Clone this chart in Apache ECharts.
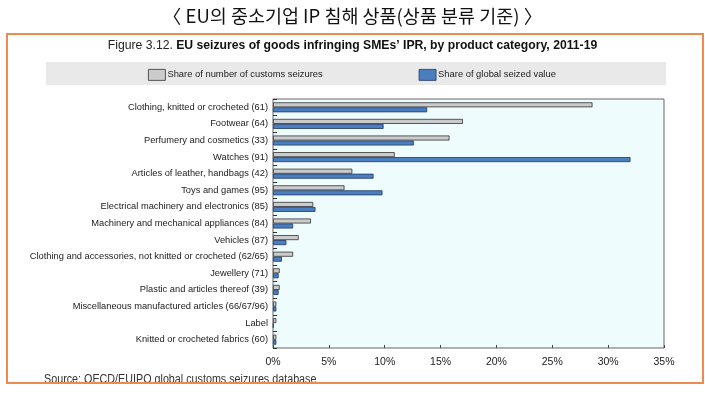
<!DOCTYPE html>
<html>
<head>
<meta charset="utf-8">
<script src="https://cdn.jsdelivr.net/npm/echarts@6/dist/echarts.min.js"></script>
<style>
  html, body { margin: 0; padding: 0; background: #fff; }
  #bar { width: 705px; height: 397px; }
</style>
</head>
<body>
<div id="bar"></div>
<script>
// 카테고리와 값 (%)
const categories = [
  'Clothing, knitted or crocheted (61)',
  'Footwear (64)',
  'Perfumery and cosmetics (33)',
  'Watches (91)',
  'Articles of leather, handbags (42)',
  'Toys and games (95)',
  'Electrical machinery and electronics (85)',
  'Machinery and mechanical appliances (84)',
  'Vehicles (87)',
  'Clothing and accessories, not knitted or crocheted (62/65)',
  'Jewellery (71)',
  'Plastic and articles thereof (39)',
  'Miscellaneous manufactured articles (66/67/96)',
  'Label',
  'Knitted or crocheted fabrics (60)'
];
const seizuresShare = [28.6, 17.0, 15.8, 10.9, 7.1, 6.4, 3.6, 3.4, 2.3, 1.8, 0.6, 0.6, 0.3, 0.3, 0.3];
const valueShare = [13.8, 9.9, 12.6, 32.0, 9.0, 9.8, 3.8, 1.8, 1.2, 0.8, 0.5, 0.5, 0.3, 0.05, 0.3];
const xTicks = [0, 5, 10, 15, 20, 25, 30, 35];

const font = "'Liberation Sans', Arial, sans-serif";

let myChart = echarts.init(document.getElementById('bar'));

myChart.setOption({
    animation: false,
    backgroundColor: '#fff',
    title: {
        text: '〈 EU의 중소기업 IP 침해 상품(상품 분류 기준) 〉',
        left: 'center',
        top: 2,
        textStyle: {
            fontFamily: "'Noto Sans CJK KR', sans-serif",
            fontSize: 18.5,
            fontWeight: 'normal',
            color: '#111'
        }
    },
    graphic: [
        { type: 'rect', shape: { x: 46, y: 62, width: 620, height: 23 }, style: { fill: '#e9e9e9' }, z: 0 },
        {
            type: 'text', left: 'center', top: 40,
            style: {
                text: '{n|Figure 3.12.} {b|EU seizures of goods infringing SMEs’ IPR, by product category, 2011-19}',
                rich: {
                    n: { fontFamily: font, fontSize: 12.2, fill: '#222' },
                    b: { fontFamily: font, fontSize: 12.2, fontWeight: 'bold', fill: '#111' }
                }
            }
        },
        {
            type: 'text', x: 44, y: 373, scaleX: 0.86,
            style: { text: 'Source: OECD/EUIPO global customs seizures database', fontFamily: font, fontSize: 12.5, fill: '#333' },
            z: 1
        },
        { type: 'rect', shape: { x: 0, y: 383, width: 705, height: 14 }, style: { fill: '#fff' }, z: 5 },
        { type: 'rect', shape: { x: 7, y: 34, width: 696, height: 349 }, style: { fill: 'none', stroke: '#ee8a4f', lineWidth: 2 }, z: 6 }
    ],
    legend: {
        top: 64,
        left: 143,
        itemGap: 96,
        itemWidth: 17,
        itemHeight: 11,
        icon: 'rect',
        itemStyle: { borderWidth: 0.8 },
        textStyle: { fontFamily: font, fontSize: 9.4, color: '#222', padding: [0, 0, 0, -3] },
        data: ['Share of number of customs seizures', 'Share of global seized value']
    },
    grid: {
        left: 273,
        right: 41,
        top: 99,
        bottom: 49,
        show: true,
        backgroundColor: '#effcfe',
        borderColor: '#666',
        borderWidth: 1
    },
    xAxis: {
        type: 'value',
        min: 0,
        max: 35,
        interval: 5,
        axisLine: { show: false },
        axisTick: { show: true, inside: true, length: 3, lineStyle: { color: '#444' } },
        splitLine: { show: false },
        axisLabel: {
            formatter: v => xTicks.includes(v) ? v + '%' : '',
            fontFamily: font,
            fontSize: 10.5,
            color: '#222',
            margin: 9
        }
    },
    yAxis: {
        type: 'category',
        inverse: true,
        data: categories,
        axisLine: { show: false },
        axisTick: { show: true, inside: true, length: 4, lineStyle: { color: '#333' } },
        axisLabel: { fontFamily: font, fontSize: 9.3, color: '#222', margin: 5 }
    },
    series: [{
        name: 'Share of number of customs seizures',
        type: 'bar',
        barWidth: 5,
        barGap: '0%',
        itemStyle: { color: '#cbcbcb', borderColor: '#333', borderWidth: 0.8 },
        data: seizuresShare
    }, {
        name: 'Share of global seized value',
        type: 'bar',
        barWidth: 5,
        barGap: '0%',
        itemStyle: { color: '#4a7ebf', borderColor: '#1f3a66', borderWidth: 0.8 },
        data: valueShare
    }]
});
</script>
</body>
</html>
